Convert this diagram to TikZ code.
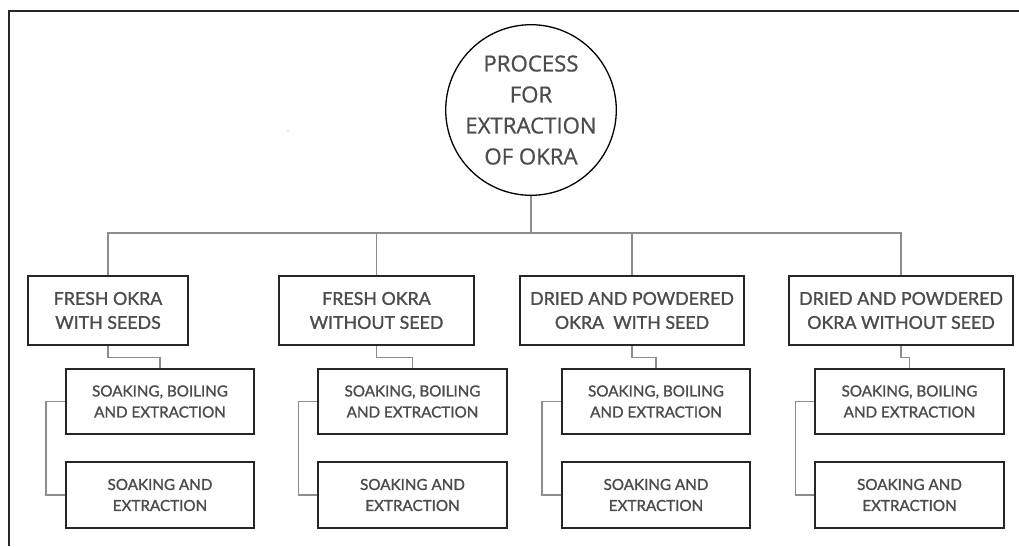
\documentclass[tikz,border=0pt]{standalone}
\usepackage{fontspec}
\setmainfont{Lato}[UprightFeatures={FakeBold=1.3}]
\newfontfamily\rootfont{Open Sans}[UprightFeatures={FakeBold=0.8}]
\begin{document}
\begin{tikzpicture}[x=1pt,y=-1pt,
  txt/.style={text=black!70},
  boxA/.style={draw=black!85,line width=1.6pt,txt,align=center,inner sep=0pt,minimum height=69pt,font=\fontsize{17.8}{24}\selectfont},
  boxB/.style={draw=black!85,line width=1.6pt,txt,align=center,inner sep=0pt,minimum height=65.5pt,minimum width=188.5pt,font=\fontsize{15.2}{21}\selectfont},
  conn/.style={draw=black!45,line width=1.3pt},
  rootc/.style={circle,draw=black,line width=1.3pt,txt,align=center,inner sep=0pt,minimum size=164pt,font=\rootfont\fontsize{22.2}{31}\selectfont}]
\useasboundingbox (0,0) rectangle (1019,546);
\fill[white] (0,0) rectangle (1019,546);
% frame
\draw[black!85,line width=1.5pt] (9,546) -- (9,11) -- (1019,11);
% stray dot
\fill[black!40] (288,131) circle (0.7pt);
% root
\node[rootc] (root) at (531,110) {PROCESS\\FOR\\EXTRACTION\\OF OKRA};
% level 1
\node[boxA,minimum width=160pt] (a1) at (108,310.5) {FRESH OKRA\\WITH SEEDS};
\node[boxA,minimum width=195pt] (a2) at (376.5,310.5) {FRESH OKRA\\WITHOUT SEED};
\node[boxA,minimum width=224pt] (a3) at (632,310.5) {DRIED AND POWDERED\\OKRA\ \ WITH SEED};
\node[boxA,minimum width=224pt] (a4) at (901,310.5) {DRIED AND POWDERED\\OKRA WITHOUT SEED};
% level 2
\node[boxB] (b1) at (160,401.5) {SOAKING, BOILING\\AND EXTRACTION};
\node[boxB] (b2) at (412.5,401.5) {SOAKING, BOILING\\AND EXTRACTION};
\node[boxB] (b3) at (656,401.5) {SOAKING, BOILING\\AND EXTRACTION};
\node[boxB] (b4) at (909.5,401.5) {SOAKING, BOILING\\AND EXTRACTION};
% level 3
\node[boxB] (c1) at (160,495) {SOAKING AND\\EXTRACTION};
\node[boxB] (c2) at (412.5,495) {SOAKING AND\\EXTRACTION};
\node[boxB] (c3) at (656,495) {SOAKING AND\\EXTRACTION};
\node[boxB] (c4) at (909.5,495) {SOAKING AND\\EXTRACTION};
% connectors
\coordinate (j) at (531,233);
\draw[conn] (root.south) -- (j);
\draw[conn] (a1.north) -- (a1.north |- j) -- (a4.north |- j) -- (a4.north);
\draw[conn] (a2.north) -- (a2.north |- j);
\draw[conn] (a3.north) -- (a3.north |- j);
\foreach \i in {1,2,3,4}{
  \draw[conn] (a\i.south) -- ++(0,12) -| (b\i.north);
  \draw[conn] (b\i.west) -- ++(-19,0) |- (c\i.west);
}
\end{tikzpicture}
\end{document}
